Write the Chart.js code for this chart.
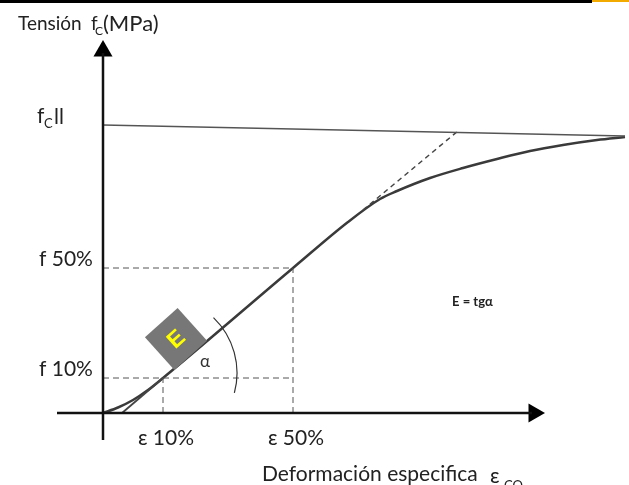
<!DOCTYPE html>
<html>
<head>
<meta charset="utf-8">
<script src="https://cdn.jsdelivr.net/npm/chart.js@4"></script>
<style>
  html, body { margin: 0; padding: 0; background: #fff; }
  #wrap { width: 629px; height: 485px; position: relative; }
</style>
</head>
<body>
<div id="wrap"><canvas id="chart"></canvas></div>
<script>
// Stress-strain curve (strain on x, stress on y, arbitrary units)
const curveX = [0, 1.5, 3.0, 4.5, 6.0, 19.0, 24.5, 27.7, 29.4, 32.7, 36.0, 39.4, 42.7, 46.0, 49.4, 52.2];
const curveY = [0, 0.55, 1.3, 2.3, 3.5, 14.5, 19.1, 21.4, 22.2, 23.5, 24.5, 25.4, 26.2, 26.8, 27.3, 27.6];

// straight part of the curve carried down to the strain axis
const chordX = [1.9, 6.0];
const chordY = [0, 3.5];

// fc|| limit line and the dashed tangent that reaches it
const limitX = [0, 52.2];
const limitY = [28.8, 27.7];
const tangentX = [26.0, 35.5];
const tangentY = [20.3, 28.2];

// tick marks on the axes
const yTickValues = [3.5, 14.5];
const yTickLabels = ['f 10%', 'f 50%'];
const xTickValues = [6.0, 19.0];
const xTickLabels = ['ε 10%', 'ε 50%'];

// axis extents
const xAxisRange = [-4.6, 42.9];
const yAxisRange = [-2.7, 36.0];

const pts = (xs, ys) => xs.map((x, i) => ({ x: x, y: ys[i] }));

const guideStyle = {
  borderColor: '#555',
  borderWidth: 1,
  borderDash: [6, 4],
  pointRadius: 0,
  showLine: true,
  fill: false
};

// Dashed guides from the ticks
const guides = [];
yTickValues.forEach((v, i) => {
  guides.push(Object.assign({ data: [{ x: 0, y: v }, { x: xTickValues[xTickValues.length - 1], y: v }] }, guideStyle));
  guides.push(Object.assign({ data: [{ x: xTickValues[i], y: 0 }, { x: xTickValues[i], y: v }] }, guideStyle));
});

const overlay = {
  id: 'overlay',
  beforeDraw(chart) {
    const ctx = chart.ctx;
    ctx.save();
    ctx.fillStyle = '#fff';
    ctx.fillRect(0, 0, chart.width, chart.height);
    ctx.restore();
  },
  afterDatasetsDraw(chart) {
    const { ctx, scales: { x, y } } = chart;
    const px = v => x.getPixelForValue(v);
    const py = v => y.getPixelForValue(v);
    ctx.save();

    // strip at the very top
    ctx.fillStyle = '#000';
    ctx.fillRect(0, 0, 592, 3);
    ctx.fillStyle = '#f2a900';
    ctx.fillRect(592, 0, 37, 2);

    ctx.fillStyle = '#222';
    ctx.textBaseline = 'alphabetic';

    // y axis title
    ctx.font = '19px Lato';
    ctx.fillText('Tensión', 18, 30);
    ctx.fillText('f', 91, 30);
    ctx.font = '12px Lato';
    ctx.fillText('C', 95, 35);
    ctx.font = '22px Lato';
    ctx.fillText('(MPa)', 103, 31);

    // fc|| label
    const fcY = py(limitY[0]);
    ctx.font = '21px Lato';
    ctx.fillText('f', 37, fcY - 2);
    ctx.font = '13px Lato';
    ctx.fillText('C', 44, fcY + 3);
    ctx.font = '21px Lato';
    ctx.fillText('ll', 54, fcY - 1);

    // tick labels
    ctx.font = '21px Lato';
    yTickValues.forEach((v, i) => ctx.fillText(yTickLabels[i], 39, py(v) - 2));
    ctx.textAlign = 'center';
    xTickValues.forEach((v, i) => ctx.fillText(xTickLabels[i], px(v) + 3, py(0) + 32));
    ctx.textAlign = 'left';

    // x axis title
    ctx.fillText('Deformación especifica', 262, 481);
    ctx.fillText('ε', 490, 483);
    ctx.font = '13px Lato';
    ctx.fillText('CO', 504, 490);

    // E = tg alpha
    ctx.font = 'bold 13px Lato';
    ctx.fillText('E = tgα', 452, 306);

    // angle arc
    const cx = px(5.7), cy = py(4.0);
    const r = px(5.7 + 7.7) - cx;
    ctx.strokeStyle = '#333';
    ctx.lineWidth = 1.2;
    ctx.beginPath();
    ctx.arc(cx, cy, r, -46 * Math.PI / 180, 15 * Math.PI / 180);
    ctx.stroke();
    ctx.font = '17px Lato';
    ctx.fillStyle = '#333';
    ctx.fillText('α', 200, 367);

    // E box along the line
    ctx.translate(px(7.3), py(7.4));
    ctx.rotate(-42 * Math.PI / 180);
    ctx.fillStyle = '#777';
    ctx.fillRect(-22, -22, 44, 44);
    ctx.fillStyle = '#ffff00';
    ctx.font = 'bold 23px "Liberation Sans"';
    ctx.textAlign = 'center';
    ctx.textBaseline = 'middle';
    ctx.fillText('E', 0, 1);
    ctx.restore();
  }
};

new Chart(document.getElementById('chart'), {
  type: 'scatter',
  data: {
    datasets: [
      // axes
      { data: [{ x: xAxisRange[0], y: 0 }, { x: xAxisRange[1], y: 0 }], showLine: true, borderColor: '#111', borderWidth: 2.5, pointRadius: 0 },
      { data: [{ x: 0, y: yAxisRange[0] }, { x: 0, y: yAxisRange[1] }], showLine: true, borderColor: '#111', borderWidth: 2.5, pointRadius: 0 },
      // arrow heads
      { data: [{ x: 0, y: 36.2 }], pointStyle: 'triangle', rotation: 0, pointRadius: 11, backgroundColor: '#000', borderWidth: 0 },
      { data: [{ x: 43.1, y: 0 }], pointStyle: 'triangle', rotation: 90, pointRadius: 11, backgroundColor: '#000', borderWidth: 0 },
      // fc|| line
      { data: pts(limitX, limitY), showLine: true, borderColor: '#555', borderWidth: 1.5, pointRadius: 0 },
      // tangent
      { data: pts(tangentX, tangentY), showLine: true, borderColor: '#444', borderWidth: 1.5, borderDash: [5, 4], pointRadius: 0 },
      ...guides,
      // chord to the axis
      { data: pts(chordX, chordY), showLine: true, borderColor: '#444', borderWidth: 1.8, pointRadius: 0 },
      // main curve
      { data: pts(curveX, curveY), showLine: true, borderColor: '#3a3a3a', borderWidth: 2.5, pointRadius: 0, cubicInterpolationMode: 'monotone' }
    ]
  },
  options: {
    responsive: true,
    maintainAspectRatio: false,
    animation: false,
    layout: { padding: 0, autoPadding: false },
    plugins: { legend: { display: false }, tooltip: { enabled: false } },
    scales: {
      x: { type: 'linear', display: false, min: -10.3, max: 52.6 },
      y: { type: 'linear', display: false, min: -7.2, max: 41.3 }
    }
  },
  plugins: [overlay]
});
</script>
</body>
</html>
